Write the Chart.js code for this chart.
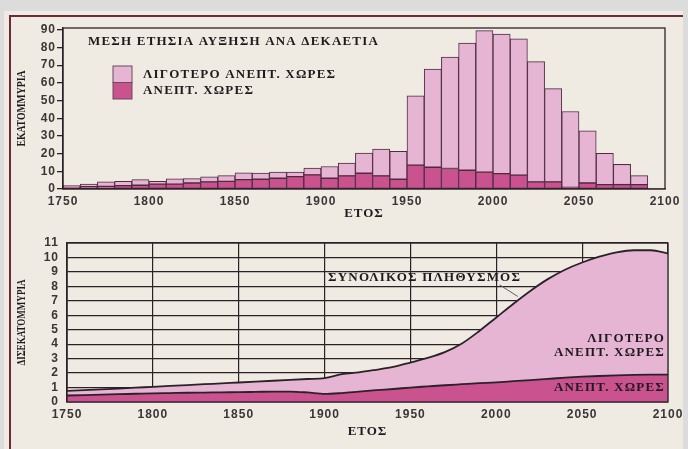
<!DOCTYPE html>
<html>
<head>
<meta charset="utf-8">
<script src="https://cdn.jsdelivr.net/npm/chart.js@4.4.1/dist/chart.umd.min.js"></script>
<style>
  body { margin: 0; width: 688px; height: 449px; background: #dcdcdc; position: relative; overflow: hidden; }
  #card { position: absolute; left: 4px; top: 11px; width: 679px; height: 440px; background: #efebe3; }
  #rule { position: absolute; left: 9px; top: 15px; width: 672px; height: 436px;
          border-left: 2px solid #6b2b3a; border-top: 2px solid #6b2b3a; }
  canvas { position: absolute; left: 0; }
</style>
</head>
<body>
<div id="card"></div>
<div id="rule"></div>
<canvas id="growth" width="688" height="225" style="top:0"></canvas>
<canvas id="population" width="688" height="224" style="top:225px"></canvas>
<script>
// ---- data: top chart (average annual increase per decade, millions) ----
var decadeStarts = [1750, 1760, 1770, 1780, 1790, 1800, 1810, 1820, 1830, 1840,
  1850, 1860, 1870, 1880, 1890, 1900, 1910, 1920, 1930, 1940,
  1950, 1960, 1970, 1980, 1990, 2000, 2010, 2020, 2030, 2040,
  2050, 2060, 2070, 2080, 2090];
var developedGrowth = [1.1, 1.3, 1.5, 1.9, 2.1, 2.8, 2.8, 3.4, 4.0, 4.3,
  5.3, 5.5, 6.1, 7.0, 8.0, 6.1, 7.4, 8.9, 7.4, 5.5,
  13.5, 12.3, 11.6, 10.6, 9.5, 8.7, 7.8, 4.0, 4.0, 0.9,
  3.4, 2.5, 2.5, 2.5, 0];
var lessDevelopedGrowth = [0.9, 1.5, 2.5, 2.4, 3.2, 1.5, 2.9, 2.5, 2.9, 3.3,
  3.8, 3.5, 3.4, 2.5, 3.8, 6.6, 7.2, 11.4, 15.2, 15.8,
  39.1, 55.5, 63.0, 71.9, 80.0, 78.9, 77.1, 68.0, 52.7, 42.9,
  29.5, 17.7, 11.4, 5.1, 0.4];

// ---- data: bottom chart (population, billions) ----
var popYears = [1750, 1760, 1770, 1780, 1790, 1800, 1810, 1820, 1830, 1840,
  1850, 1860, 1870, 1880, 1890, 1900, 1910, 1920, 1930, 1940,
  1950, 1960, 1970, 1980, 1990, 2000, 2010, 2020, 2030, 2040,
  2050, 2060, 2070, 2080, 2090, 2100];
var developedPop = [0.45, 0.48, 0.51, 0.54, 0.57, 0.6, 0.62, 0.64, 0.65, 0.67,
  0.68, 0.7, 0.72, 0.72, 0.66, 0.56, 0.62, 0.72, 0.82, 0.9,
  1.0, 1.08, 1.16, 1.23, 1.3, 1.36, 1.44, 1.52, 1.6, 1.68,
  1.75, 1.8, 1.84, 1.87, 1.89, 1.9];
var totalPop = [0.77, 0.82, 0.87, 0.93, 0.99, 1.05, 1.11, 1.17, 1.23, 1.29,
  1.35, 1.41, 1.47, 1.53, 1.59, 1.65, 1.93, 2.05, 2.23, 2.43,
  2.73, 3.05, 3.45, 4.05, 4.9, 5.85, 6.8, 7.7, 8.5, 9.15,
  9.65, 10.05, 10.35, 10.5, 10.5, 10.27];

// ---- texts ----
var growthTitle = "ΜΕΣΗ ΕΤΗΣΙΑ ΑΥΞΗΣΗ ΑΝΑ ΔΕΚΑΕΤΙΑ";
var lessDevLabel = "ΛΙΓΟΤΕΡΟ ΑΝΕΠΤ. ΧΩΡΕΣ";
var devLabel = "ΑΝΕΠΤ. ΧΩΡΕΣ";
var totalLabel = "ΣΥΝΟΛΙΚΟΣ ΠΛΗΘΥΣΜΟΣ";
var xTitle = "ΕΤΟΣ";

var light = "#e6b5d4";
var dark = "#c9528f";
var ink = "#2b2228";
var serif = '"Liberation Serif", "DejaVu Serif", serif';

Chart.defaults.font.family = '"Liberation Sans", Arial, sans-serif';
Chart.defaults.color = "#3a3536";

// shared: wide tick lettering, frame round the plot, rotated (condensed) y title
function frameAndTitle(yTitle, titleLength) {
  return {
    id: "frameAndTitle",
    beforeDraw: function (chart) { chart.ctx.letterSpacing = "1px"; },
    afterDraw: function (chart) {
      var ctx = chart.ctx, a = chart.chartArea;
      ctx.save();
      ctx.letterSpacing = "0px";
      ctx.strokeStyle = ink;
      ctx.lineWidth = 1.3;
      ctx.strokeRect(a.left, a.top, a.right - a.left, a.bottom - a.top);
      ctx.translate(22, (a.top + a.bottom) / 2);
      ctx.rotate(-Math.PI / 2);
      ctx.font = "bold 12px " + serif;
      var w = ctx.measureText(yTitle).width;
      ctx.scale(titleLength / w, 1);
      ctx.fillStyle = "#1f1a1d";
      ctx.textAlign = "center";
      ctx.textBaseline = "middle";
      ctx.fillText(yTitle, 0, 0);
      ctx.restore();
    }
  };
}

function serifText(ctx, text, x, y, align) {
  ctx.font = "bold 13px " + serif;
  ctx.letterSpacing = "1.2px";
  ctx.fillStyle = "#1f1a1d";
  ctx.textAlign = align || "left";
  ctx.textBaseline = "middle";
  ctx.fillText(text, x, y);
}

// top chart: title and legend inside the plot
var growthLegend = {
  id: "growthLegend",
  afterDraw: function (chart) {
    var ctx = chart.ctx, a = chart.chartArea;
    ctx.save();
    serifText(ctx, growthTitle, a.left + 25, a.top + 14);
    var items = [chart.data.datasets[1], chart.data.datasets[0]];
    items.forEach(function (d, i) {
      var bx = a.left + 50, by = a.top + 38 + i * 16.5;
      ctx.fillStyle = d.backgroundColor;
      ctx.fillRect(bx, by, 19, 16.5);
      ctx.strokeStyle = "#6b4a5c";
      ctx.lineWidth = 1;
      ctx.strokeRect(bx, by, 19, 16.5);
      serifText(ctx, d.label, bx + 30, by + 8.5);
    });
    ctx.restore();
  }
};

// bottom chart: labels on the areas
var populationLabels = {
  id: "populationLabels",
  afterDraw: function (chart) {
    var ctx = chart.ctx, a = chart.chartArea;
    var x = chart.scales.x, y = chart.scales.y;
    ctx.save();
    serifText(ctx, totalLabel, x.getPixelForValue(1902), y.getPixelForValue(8.6));
    ctx.strokeStyle = "#6a5560";
    ctx.lineWidth = 1;
    ctx.beginPath();
    ctx.moveTo(x.getPixelForValue(2002), y.getPixelForValue(8.1));
    ctx.lineTo(x.getPixelForValue(2012.5), y.getPixelForValue(7.3));
    ctx.stroke();
    serifText(ctx, "ΛΙΓΟΤΕΡΟ", a.right - 3, y.getPixelForValue(4.4), "right");
    serifText(ctx, devLabel, a.right - 3, y.getPixelForValue(3.4), "right");
    serifText(ctx, devLabel, a.right - 3, y.getPixelForValue(1.02), "right");
    ctx.restore();
  }
};

var tickFont = { size: 12, weight: "bold" };

new Chart(document.getElementById("growth"), {
  type: "bar",
  data: {
    datasets: [
      {
        label: devLabel,
        data: decadeStarts.map(function (d, i) { return { x: d + 5, y: developedGrowth[i] }; }),
        backgroundColor: dark,
        borderColor: "#4e2b3f",
        borderWidth: 1,
        borderSkipped: false,
        categoryPercentage: 1,
        barPercentage: 1
      },
      {
        label: lessDevLabel,
        data: decadeStarts.map(function (d, i) { return { x: d + 5, y: lessDevelopedGrowth[i] }; }),
        backgroundColor: light,
        borderColor: "#4e2b3f",
        borderWidth: 1,
        borderSkipped: false,
        categoryPercentage: 1,
        barPercentage: 1
      }
    ]
  },
  options: {
    responsive: false,
    animation: false,
    layout: { padding: { top: 28, right: 23, left: 0, bottom: 0 } },
    plugins: { legend: { display: false }, tooltip: { enabled: false } },
    scales: {
      x: {
        type: "linear", min: 1750, max: 2100, stacked: true, offset: false,
        grid: { display: false, drawTicks: false, offset: false },
        border: { display: true, color: ink, width: 1.3 },
        ticks: { stepSize: 50, padding: 5, autoSkip: false, font: tickFont, callback: function (v) { return String(v); } },
        title: { display: true, text: xTitle, color: "#1f1a1d", font: { family: serif, size: 13, weight: "bold" }, padding: { top: 0, bottom: 4 } },
        afterFit: function (s) { s.height = 36; }
      },
      y: {
        min: 0, max: 91, stacked: true,
        grid: { drawOnChartArea: false, drawTicks: true, tickLength: 6, color: ink, lineWidth: 1.3 },
        border: { display: true, color: ink, width: 1.3 },
        ticks: { stepSize: 10, padding: 1, autoSkip: false, includeBounds: false, font: tickFont },
        afterFit: function (s) { s.width = 63; }
      }
    }
  },
  plugins: [frameAndTitle("ΕΚΑΤΟΜΜΥΡΙΑ", 76), growthLegend]
});

new Chart(document.getElementById("population"), {
  type: "line",
  data: {
    datasets: [
      {
        label: devLabel,
        data: popYears.map(function (yr, i) { return { x: yr, y: developedPop[i] }; }),
        borderColor: ink,
        borderWidth: 1.8,
        backgroundColor: dark,
        fill: "origin",
        pointRadius: 0,
        cubicInterpolationMode: "monotone"
      },
      {
        label: totalLabel,
        data: popYears.map(function (yr, i) { return { x: yr, y: totalPop[i] }; }),
        borderColor: ink,
        borderWidth: 1.8,
        backgroundColor: light,
        fill: "-1",
        pointRadius: 0,
        cubicInterpolationMode: "monotone"
      }
    ]
  },
  options: {
    responsive: false,
    animation: false,
    layout: { padding: { top: 18, right: 20, left: 0, bottom: 0 } },
    plugins: { legend: { display: false }, tooltip: { enabled: false } },
    scales: {
      x: {
        type: "linear", min: 1750, max: 2100, z: 1,
        grid: { color: ink, lineWidth: 1.2, drawTicks: false },
        border: { display: true, color: ink, width: 1.3 },
        ticks: { stepSize: 50, padding: 5, autoSkip: false, font: tickFont, callback: function (v) { return String(v); } },
        title: { display: true, text: xTitle, color: "#1f1a1d", font: { family: serif, size: 13, weight: "bold" }, padding: { top: 0, bottom: 10 } },
        afterFit: function (s) { s.height = 47; }
      },
      y: {
        min: 0, max: 11,
        grid: { color: ink, lineWidth: 1.2, drawTicks: false },
        border: { display: true, color: ink, width: 1.3 },
        ticks: { stepSize: 1, padding: 8, autoSkip: false, font: tickFont },
        afterFit: function (s) { s.width = 67; }
      }
    }
  },
  plugins: [frameAndTitle("ΔΙΣΕΚΑΤΟΜΜΥΡΙΑ", 86), populationLabels]
});
</script>
</body>
</html>
